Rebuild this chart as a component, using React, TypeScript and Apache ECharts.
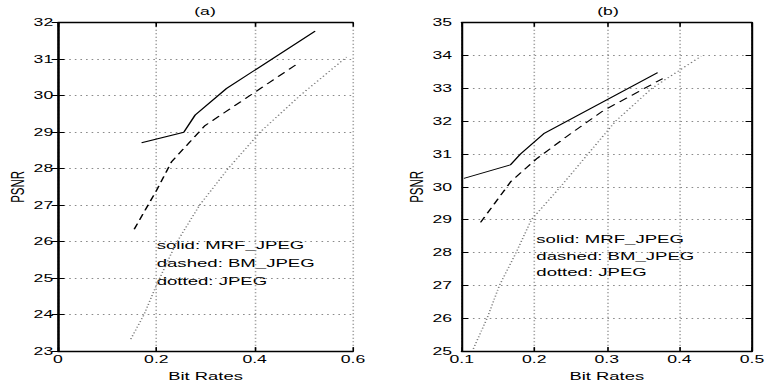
import React, { useEffect, useRef } from "react";
import * as echarts from "echarts";

// ---- data ----
// panel (a)
const aXTicks = [0, 0.2, 0.4, 0.6];
const aYTicks = [23, 24, 25, 26, 27, 28, 29, 30, 31, 32];
const aSolidX = [0.17, 0.256, 0.279, 0.343, 0.523];
const aSolidY = [28.71, 29.0, 29.47, 30.2, 31.77];
const aDashedX = [0.155, 0.201, 0.231, 0.268, 0.299, 0.492];
const aDashedY = [26.34, 27.42, 28.19, 28.73, 29.18, 30.92];
const aDottedX = [0.148, 0.175, 0.2, 0.24, 0.288, 0.346, 0.411, 0.492, 0.587];
const aDottedY = [23.33, 24.0, 24.8, 25.95, 27.0, 28.0, 29.0, 30.0, 31.06];
// panel (b)
const bXTicks = [0.1, 0.2, 0.3, 0.4, 0.5];
const bYTicks = [25, 26, 27, 28, 29, 30, 31, 32, 33, 34, 35];
const bSolidX = [0.103, 0.167, 0.181, 0.213, 0.37];
const bSolidY = [30.26, 30.67, 31.0, 31.62, 33.48];
const bDashedX = [0.126, 0.168, 0.19, 0.204, 0.25, 0.295, 0.377];
const bDashedY = [28.92, 30.17, 30.6, 30.87, 31.62, 32.32, 33.3];
const bDottedX = [0.116, 0.135, 0.152, 0.175, 0.196, 0.236, 0.274, 0.312, 0.362, 0.43];
const bDottedY = [25.07, 26, 27, 28, 29, 30, 31, 32, 33, 33.98];

const titles = ["(a)", "(b)"];
const legendLines = ["solid: MRF_JPEG", "dashed: BM_JPEG", "dotted: JPEG"];
const xName = "Bit Rates";
const yName = "PSNR";

// The reference is a horizontally stretched raster; reproduce by drawing
// into a narrower canvas and stretching it.
const W = 769;
const H = 387;
const CW = 480;
const S = W / CW;

const FONT = "'Liberation Sans', Arial, Helvetica, sans-serif";

const zip = (xs: number[], ys: number[]) => xs.map((x, i) => [x, ys[i]]);
const fmt = (v: number) => String(Math.round(v * 10) / 10);

function App() {
  const ref = useRef<HTMLDivElement>(null);
  useEffect(() => {
    if (!ref.current) return;
    const chart = echarts.init(ref.current, undefined, { renderer: "svg" });

    const gridTop = 22.7;
    const gridH = 332.3;
    const gridW = 295 / S;
    const grids = [
      { left: 58 / S, top: gridTop, width: gridW, height: gridH },
      { left: 461.7 / S, top: gridTop, width: gridW, height: gridH },
    ];

    const axisLine = { show: true, lineStyle: { color: "#000", width: 1.3 } };
    const axisTick = { show: true, inside: true, length: 4, lineStyle: { color: "#000", width: 1 } };
    const splitLine = { show: true, lineStyle: { color: "#8a8a8a", width: 1, type: [1, 2.5] } };
    const labelStyle = { color: "#000", fontFamily: FONT, fontSize: 11 };
    const nameStyle = { color: "#000", fontFamily: FONT, fontSize: 11.5 };

    const mkX = (grid: number, ticks: number[], main: boolean) => ({
      type: "value",
      gridIndex: grid,
      position: main ? "bottom" : "top",
      min: ticks[0],
      max: ticks[ticks.length - 1],
      interval: Math.round((ticks[1] - ticks[0]) * 10) / 10,
      axisLine,
      axisTick,
      splitLine: main ? splitLine : { show: false },
      axisLabel: main
        ? { show: true, margin: 3, formatter: (v: number) => fmt(v), ...labelStyle }
        : { show: false },
      name: main ? xName : "",
      nameLocation: "middle",
      nameGap: 16,
      nameTextStyle: nameStyle,
    });
    const mkY = (grid: number, ticks: number[], main: boolean, margin: number) => ({
      type: "value",
      gridIndex: grid,
      position: main ? "left" : "right",
      min: ticks[0],
      max: ticks[ticks.length - 1],
      interval: ticks[1] - ticks[0],
      axisLine,
      axisTick,
      splitLine: main ? splitLine : { show: false },
      axisLabel: main ? { show: true, margin, ...labelStyle } : { show: false },
      name: main ? yName : "",
      nameLocation: "middle",
      nameGap: 18,
      nameTextStyle: nameStyle,
    });

    const line = (data: number[][], xi: number, yi: number, style: any) => ({
      type: "line",
      xAxisIndex: xi,
      yAxisIndex: yi,
      data,
      symbol: "none",
      silent: true,
      lineStyle: style,
    });
    const solid = { color: "#000", width: 1, type: "solid" };
    const dashed = { color: "#000", width: 1, type: [6, 4] };
    const dotted = { color: "#777", width: 1, type: [1, 2] };

    const txt = (text: string, x: number, y: number, size: number, align: string) => ({
      type: "text",
      x,
      y,
      silent: true,
      style: {
        text,
        fill: "#000",
        font: `${size}px ${FONT}`,
        align,
        verticalAlign: "middle",
        textAlign: align,
        textVerticalAlign: "middle",
      },
    });

    const aLegY = [245, 262.7, 281];
    const bLegY = [239.3, 256, 271.7];

    chart.setOption({
      animation: false,
      backgroundColor: "#fff",
      grid: grids,
      xAxis: [mkX(0, aXTicks, true), mkX(0, aXTicks, false), mkX(1, bXTicks, true), mkX(1, bXTicks, false)],
      yAxis: [mkY(0, aYTicks, true, 3), mkY(0, aYTicks, false, 3), mkY(1, bYTicks, true, 6), mkY(1, bYTicks, false, 6)],
      series: [
        line(zip(aDottedX, aDottedY), 0, 0, dotted),
        line(zip(aDashedX, aDashedY), 0, 0, dashed),
        line(zip(aSolidX, aSolidY), 0, 0, solid),
        line(zip(bDottedX, bDottedY), 2, 2, dotted),
        line(zip(bDashedX, bDashedY), 2, 2, dashed),
        line(zip(bSolidX, bSolidY), 2, 2, solid),
      ],
      graphic: [
        txt(titles[0], 205 / S, 11, 11, "center"),
        txt(titles[1], 608 / S, 11, 11, "center"),
        ...legendLines.map((t, i) => txt(t, 156.7 / S, aLegY[i], 11.6, "left")),
        ...legendLines.map((t, i) => txt(t, 536.3 / S, bLegY[i], 11.6, "left")),
      ],
    });
    return () => chart.dispose();
  }, []);

  return (
    <div
      style={{
        position: "absolute",
        left: 0,
        top: 0,
        width: W,
        height: H,
        overflow: "hidden",
        background: "#fff",
      }}
    >
      <div
        ref={ref}
        style={{
          width: CW,
          height: H,
          transform: `scaleX(${S})`,
          transformOrigin: "0 0",
        }}
      />
    </div>
  );
}

export default App;
